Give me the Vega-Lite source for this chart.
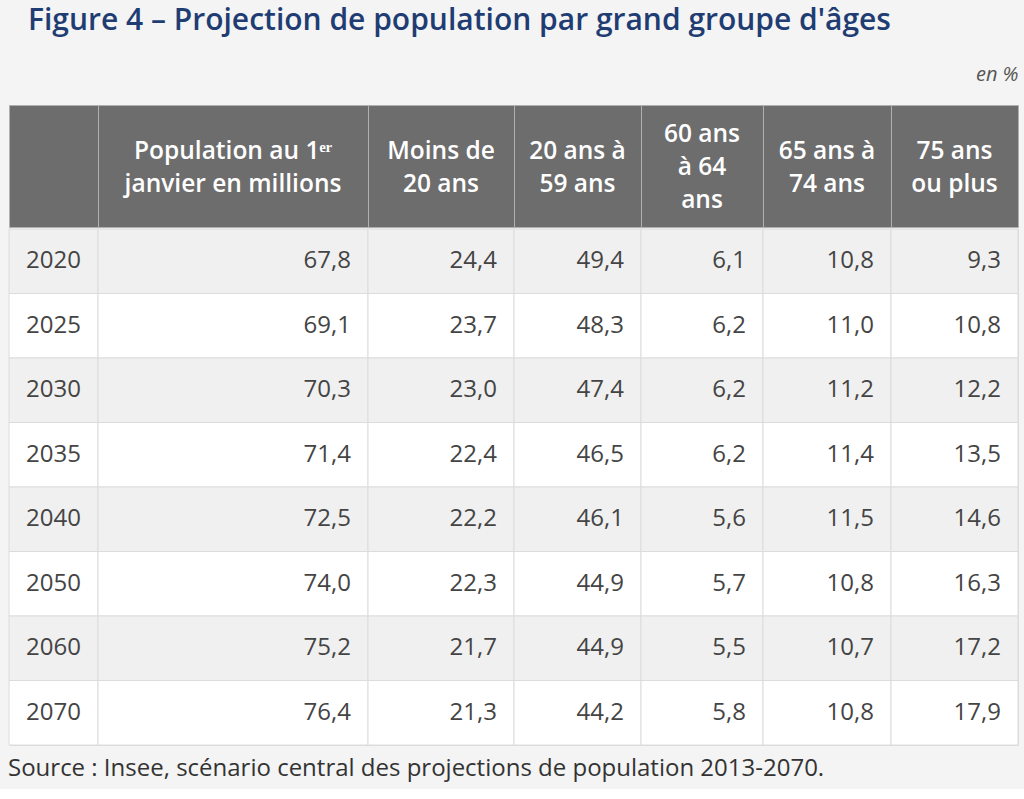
{
  "$schema": "https://vega.github.io/schema/vega-lite/v6.json",
  "background": "#f4f4f4",
  "padding": {"left": 8, "right": 7, "top": 5, "bottom": 8},
  "datasets": {
    "entetes": [
      {"col": "c0", "label": ""},
      {"col": "c1", "label": "Population au 1ᵉʳ|janvier en millions"},
      {"col": "c2", "label": "Moins de|20 ans"},
      {"col": "c3", "label": "20 ans à|59 ans"},
      {"col": "c4", "label": "60 ans|à 64|ans"},
      {"col": "c5", "label": "65 ans à|74 ans"},
      {"col": "c6", "label": "75 ans|ou plus"}
    ],
    "tableau": [
      {"annee": "2020", "pop": 67.8, "m20": 24.4, "a20_59": 49.4, "a60_64": 6.1, "a65_74": 10.8, "a75": 9.3},
      {"annee": "2025", "pop": 69.1, "m20": 23.7, "a20_59": 48.3, "a60_64": 6.2, "a65_74": 11.0, "a75": 10.8},
      {"annee": "2030", "pop": 70.3, "m20": 23.0, "a20_59": 47.4, "a60_64": 6.2, "a65_74": 11.2, "a75": 12.2},
      {"annee": "2035", "pop": 71.4, "m20": 22.4, "a20_59": 46.5, "a60_64": 6.2, "a65_74": 11.4, "a75": 13.5},
      {"annee": "2040", "pop": 72.5, "m20": 22.2, "a20_59": 46.1, "a60_64": 5.6, "a65_74": 11.5, "a75": 14.6},
      {"annee": "2050", "pop": 74.0, "m20": 22.3, "a20_59": 44.9, "a60_64": 5.7, "a65_74": 10.8, "a75": 16.3},
      {"annee": "2060", "pop": 75.2, "m20": 21.7, "a20_59": 44.9, "a60_64": 5.5, "a65_74": 10.7, "a75": 17.2},
      {"annee": "2070", "pop": 76.4, "m20": 21.3, "a20_59": 44.2, "a60_64": 5.8, "a65_74": 10.8, "a75": 17.9}
    ]
  },
  "title": {
    "text": "Figure 4 – Projection de population par grand groupe d'âges",
    "anchor": "start",
    "dx": 20,
    "fontSize": 30,
    "fontWeight": 600,
    "color": "#1f3d73",
    "font": "Open Sans",
    "offset": 29
  },
  "spacing": 0,
  "vconcat": [
    {
      "title": {"text": "en %", "anchor": "end", "fontStyle": "italic", "fontWeight": "normal", "fontSize": 20, "color": "#555555", "font": "Open Sans", "offset": 20},
      "spacing": 0,
      "bounds": "flush",
      "data": {"name": "entetes"},
      "hconcat": [
        {"width": 89, "height": 122, "transform": [{"filter": "datum.col == 'c0'"}], "view": {"fill": "#6d6d6d", "stroke": "#b0b0b0"}, "mark": {"type": "text", "lineBreak": "|", "lineHeight": 33, "baseline": "middle", "dy": -14}, "encoding": {"x": {"field": "col", "type": "nominal", "axis": null}, "text": {"field": "label"}}},
        {"width": 270, "height": 122, "transform": [{"filter": "datum.col == 'c1'"}], "view": {"fill": "#6d6d6d", "stroke": "#b0b0b0"}, "mark": {"type": "text", "lineBreak": "|", "lineHeight": 33, "baseline": "middle", "dy": -14}, "encoding": {"x": {"field": "col", "type": "nominal", "axis": null}, "text": {"field": "label"}}},
        {"width": 146, "height": 122, "transform": [{"filter": "datum.col == 'c2'"}], "view": {"fill": "#6d6d6d", "stroke": "#b0b0b0"}, "mark": {"type": "text", "lineBreak": "|", "lineHeight": 33, "baseline": "middle", "dy": -14}, "encoding": {"x": {"field": "col", "type": "nominal", "axis": null}, "text": {"field": "label"}}},
        {"width": 127, "height": 122, "transform": [{"filter": "datum.col == 'c3'"}], "view": {"fill": "#6d6d6d", "stroke": "#b0b0b0"}, "mark": {"type": "text", "lineBreak": "|", "lineHeight": 33, "baseline": "middle", "dy": -14}, "encoding": {"x": {"field": "col", "type": "nominal", "axis": null}, "text": {"field": "label"}}},
        {"width": 122, "height": 122, "transform": [{"filter": "datum.col == 'c4'"}], "view": {"fill": "#6d6d6d", "stroke": "#b0b0b0"}, "mark": {"type": "text", "lineBreak": "|", "lineHeight": 33, "baseline": "middle", "dy": -31}, "encoding": {"x": {"field": "col", "type": "nominal", "axis": null}, "text": {"field": "label"}}},
        {"width": 128, "height": 122, "transform": [{"filter": "datum.col == 'c5'"}], "view": {"fill": "#6d6d6d", "stroke": "#b0b0b0"}, "mark": {"type": "text", "lineBreak": "|", "lineHeight": 33, "baseline": "middle", "dy": -14}, "encoding": {"x": {"field": "col", "type": "nominal", "axis": null}, "text": {"field": "label"}}},
        {"width": 127, "height": 122, "transform": [{"filter": "datum.col == 'c6'"}], "view": {"fill": "#6d6d6d", "stroke": "#b0b0b0"}, "mark": {"type": "text", "lineBreak": "|", "lineHeight": 33, "baseline": "middle", "dy": -14}, "encoding": {"x": {"field": "col", "type": "nominal", "axis": null}, "text": {"field": "label"}}}
      ]
    },
    {
      "title": {"text": "Source : Insee, scénario central des projections de population 2013-2070.", "orient": "bottom", "anchor": "start", "fontWeight": "normal", "fontSize": 24, "color": "#333333", "font": "Open Sans", "offset": 11},
      "spacing": 0,
      "bounds": "flush",
      "data": {"name": "tableau"},
      "hconcat": [
        {"width": 89, "height": 516, "layer": [
          {"mark": {"type": "rect", "stroke": "#dcdcdc", "strokeWidth": 1}, "encoding": {"y": {"field": "annee", "type": "ordinal", "axis": null, "scale": {"paddingInner": 0, "paddingOuter": 0}}, "fill": {"field": "annee", "type": "ordinal", "legend": null, "scale": {"range": ["#f0f0f0", "#ffffff", "#f0f0f0", "#ffffff", "#f0f0f0", "#ffffff", "#f0f0f0", "#ffffff"]}}}},
          {"mark": {"type": "text", "align": "left", "dx": 17, "baseline": "middle", "color": "#444444", "fontSize": 24, "fontWeight": "normal"}, "encoding": {"x": {"value": 0}, "y": {"field": "annee", "type": "ordinal", "axis": null, "scale": {"paddingInner": 0, "paddingOuter": 0}}, "text": {"field": "annee"}}}
        ]},
        {"width": 270, "height": 516, "layer": [
          {"mark": {"type": "rect", "stroke": "#dcdcdc", "strokeWidth": 1}, "encoding": {"y": {"field": "annee", "type": "ordinal", "axis": null, "scale": {"paddingInner": 0, "paddingOuter": 0}}, "fill": {"field": "annee", "type": "ordinal", "legend": null, "scale": {"range": ["#f0f0f0", "#ffffff", "#f0f0f0", "#ffffff", "#f0f0f0", "#ffffff", "#f0f0f0", "#ffffff"]}}}},
          {"mark": {"type": "text", "dx": -17, "align": "right", "baseline": "middle", "color": "#444444", "fontSize": 24, "fontWeight": "normal"}, "encoding": {"x": {"value": "width"}, "y": {"field": "annee", "type": "ordinal", "axis": null, "scale": {"paddingInner": 0, "paddingOuter": 0}}, "text": {"field": "pop", "type": "quantitative", "format": ".1f"}}}
        ]},
        {"width": 146, "height": 516, "layer": [
          {"mark": {"type": "rect", "stroke": "#dcdcdc", "strokeWidth": 1}, "encoding": {"y": {"field": "annee", "type": "ordinal", "axis": null, "scale": {"paddingInner": 0, "paddingOuter": 0}}, "fill": {"field": "annee", "type": "ordinal", "legend": null, "scale": {"range": ["#f0f0f0", "#ffffff", "#f0f0f0", "#ffffff", "#f0f0f0", "#ffffff", "#f0f0f0", "#ffffff"]}}}},
          {"mark": {"type": "text", "dx": -17, "align": "right", "baseline": "middle", "color": "#444444", "fontSize": 24, "fontWeight": "normal"}, "encoding": {"x": {"value": "width"}, "y": {"field": "annee", "type": "ordinal", "axis": null, "scale": {"paddingInner": 0, "paddingOuter": 0}}, "text": {"field": "m20", "type": "quantitative", "format": ".1f"}}}
        ]},
        {"width": 127, "height": 516, "layer": [
          {"mark": {"type": "rect", "stroke": "#dcdcdc", "strokeWidth": 1}, "encoding": {"y": {"field": "annee", "type": "ordinal", "axis": null, "scale": {"paddingInner": 0, "paddingOuter": 0}}, "fill": {"field": "annee", "type": "ordinal", "legend": null, "scale": {"range": ["#f0f0f0", "#ffffff", "#f0f0f0", "#ffffff", "#f0f0f0", "#ffffff", "#f0f0f0", "#ffffff"]}}}},
          {"mark": {"type": "text", "dx": -17, "align": "right", "baseline": "middle", "color": "#444444", "fontSize": 24, "fontWeight": "normal"}, "encoding": {"x": {"value": "width"}, "y": {"field": "annee", "type": "ordinal", "axis": null, "scale": {"paddingInner": 0, "paddingOuter": 0}}, "text": {"field": "a20_59", "type": "quantitative", "format": ".1f"}}}
        ]},
        {"width": 122, "height": 516, "layer": [
          {"mark": {"type": "rect", "stroke": "#dcdcdc", "strokeWidth": 1}, "encoding": {"y": {"field": "annee", "type": "ordinal", "axis": null, "scale": {"paddingInner": 0, "paddingOuter": 0}}, "fill": {"field": "annee", "type": "ordinal", "legend": null, "scale": {"range": ["#f0f0f0", "#ffffff", "#f0f0f0", "#ffffff", "#f0f0f0", "#ffffff", "#f0f0f0", "#ffffff"]}}}},
          {"mark": {"type": "text", "dx": -17, "align": "right", "baseline": "middle", "color": "#444444", "fontSize": 24, "fontWeight": "normal"}, "encoding": {"x": {"value": "width"}, "y": {"field": "annee", "type": "ordinal", "axis": null, "scale": {"paddingInner": 0, "paddingOuter": 0}}, "text": {"field": "a60_64", "type": "quantitative", "format": ".1f"}}}
        ]},
        {"width": 128, "height": 516, "layer": [
          {"mark": {"type": "rect", "stroke": "#dcdcdc", "strokeWidth": 1}, "encoding": {"y": {"field": "annee", "type": "ordinal", "axis": null, "scale": {"paddingInner": 0, "paddingOuter": 0}}, "fill": {"field": "annee", "type": "ordinal", "legend": null, "scale": {"range": ["#f0f0f0", "#ffffff", "#f0f0f0", "#ffffff", "#f0f0f0", "#ffffff", "#f0f0f0", "#ffffff"]}}}},
          {"mark": {"type": "text", "dx": -17, "align": "right", "baseline": "middle", "color": "#444444", "fontSize": 24, "fontWeight": "normal"}, "encoding": {"x": {"value": "width"}, "y": {"field": "annee", "type": "ordinal", "axis": null, "scale": {"paddingInner": 0, "paddingOuter": 0}}, "text": {"field": "a65_74", "type": "quantitative", "format": ".1f"}}}
        ]},
        {"width": 127, "height": 516, "layer": [
          {"mark": {"type": "rect", "stroke": "#dcdcdc", "strokeWidth": 1}, "encoding": {"y": {"field": "annee", "type": "ordinal", "axis": null, "scale": {"paddingInner": 0, "paddingOuter": 0}}, "fill": {"field": "annee", "type": "ordinal", "legend": null, "scale": {"range": ["#f0f0f0", "#ffffff", "#f0f0f0", "#ffffff", "#f0f0f0", "#ffffff", "#f0f0f0", "#ffffff"]}}}},
          {"mark": {"type": "text", "dx": -17, "align": "right", "baseline": "middle", "color": "#444444", "fontSize": 24, "fontWeight": "normal"}, "encoding": {"x": {"value": "width"}, "y": {"field": "annee", "type": "ordinal", "axis": null, "scale": {"paddingInner": 0, "paddingOuter": 0}}, "text": {"field": "a75", "type": "quantitative", "format": ".1f"}}}
        ]}
      ]
    }
  ],
  "config": {
    "font": "Open Sans",
    "locale": {"number": {"decimal": ",", "thousands": " ", "grouping": [3], "currency": ["", " €"]}},
    "view": {"stroke": "#dcdcdc"},
    "text": {"font": "Open Sans", "fontSize": 24.5, "fontWeight": 600, "color": "#ffffff"},
    "title": {"font": "Open Sans"}
  }
}
